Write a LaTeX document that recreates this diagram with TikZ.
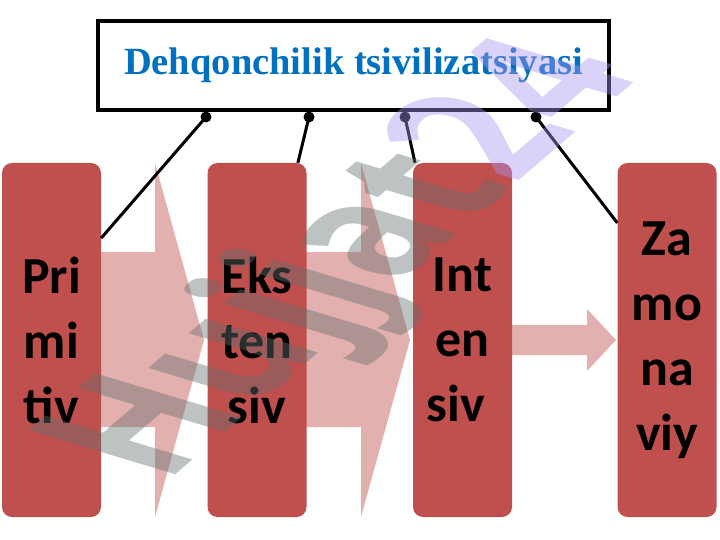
\documentclass[tikz,border=0pt]{standalone}
\usepackage{fontspec}
\newfontfamily\titlefont{Liberation Serif}
\newfontfamily\stagefont{Carlito}
\newfontfamily\markfont{Open Sans}
\definecolor{stagered}{RGB}{192, 80, 77}
\definecolor{titleblue}{RGB}{0, 112, 192}
\definecolor{markgray}{RGB}{100, 110, 110}
\definecolor{markpurple}{RGB}{170, 150, 245}
\usetikzlibrary{positioning, calc}

\tikzset{
  stagebox/.style={fill=stagered, rounded corners=10pt, minimum width=99pt, minimum height=354pt,
    align=center, font=\stagefont\bfseries\fontsize{52}{65}\selectfont, inner sep=0pt},
  flowarrow/.style={fill=stagered, fill opacity=0.45},
  link/.style={line width=3pt, black},
  knob/.style={circle, fill=black, inner sep=0pt, minimum size=11pt}
}

\begin{document}
\begin{tikzpicture}[x=1pt, y=-1pt]
  \useasboundingbox (0,0) rectangle (720,540);
  \fill[white] (0,0) rectangle (720,540);
  % block arrows behind the stages
  \fill[flowarrow] (60,252) -- (155,252) -- (155,163) -- (204,340) -- (155,517) -- (155,427) -- (60,427) -- cycle;
  \fill[flowarrow] (300,252) -- (361,252) -- (361,163) -- (410,340) -- (361,517) -- (361,427) -- (300,427) -- cycle;
  \fill[flowarrow] (510,325) -- (587,325) -- (587,309) -- (616,340) -- (587,371) -- (587,355) -- (510,355) -- cycle;
  % title
  \node[draw, line width=4pt, minimum width=511pt, minimum height=89pt, inner sep=0pt,
    font=\titlefont\bfseries\fontsize{38.5}{40}\selectfont, text=titleblue] (title) at (353.5,65.5)
    {Dehqonchilik tsivilizatsiyasi};
  \node[knob] (d1) at (206,117) {};
  \node[knob] (d2) at (309,117) {};
  \node[knob] (d3) at (405,117) {};
  \node[knob] (d4) at (536,117) {};
  % stages
  \node[stagebox] (primitiv) at (51.5,340) {Pri\\mi\\tiv};
  \node[stagebox] (ekstensiv) at (257,340) {Eks\\ten\\siv};
  \node[stagebox] (intensiv) at (462.5,340) {Int\\en\\siv\hspace*{13pt}};
  \node[stagebox] (zamonaviy) at (667,340) {Za\\mo\\na\\viy};
  \draw[link] (d1.center) -- (primitiv.64);
  \draw[link] (d2.center) -- (ekstensiv.77);
  \draw[link] (d3.center) -- (intensiv.105);
  \draw[link] (d4.center) -- (zamonaviy.113);
  % watermark (slanted)
  \begin{scope}[shift={(165,484)}, cm={1.139,0.976,-2.06,0.618,(0,0)}]
    \node[transform shape, anchor=base west, inner sep=0pt,
      font=\markfont\bfseries\fontsize{100}{100}\selectfont] (mark) at (0,0)
      {\textcolor{markgray}{\pgfsetfillopacity{0.42}Hujjat}\textcolor{markpurple}{\pgfsetfillopacity{0.42}24}};
  \end{scope}
\end{tikzpicture}
\end{document}
